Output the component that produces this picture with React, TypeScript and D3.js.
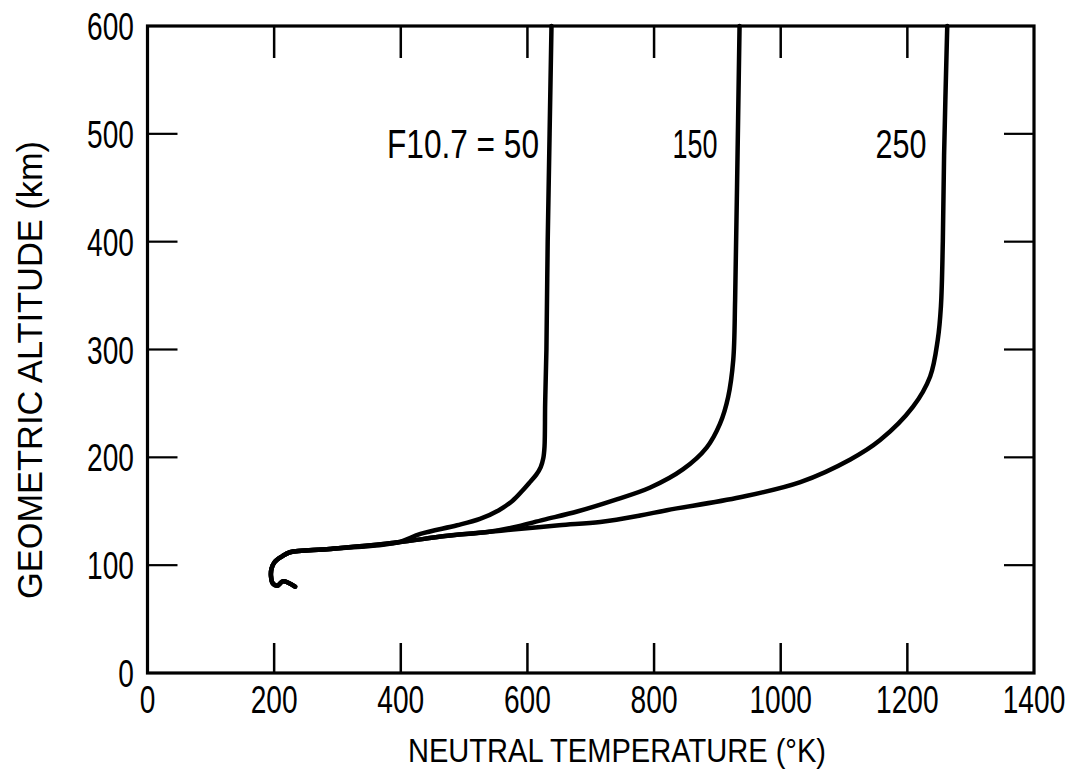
import React from "react";
import * as d3 from "d3";

// Temperature (K) and altitude (km) for each F10.7 curve
const temps50 = [233, 214, 205, 198, 195, 196, 201, 212, 225, 288, 394, 431, 489, 525, 555, 577, 592, 604, 614, 621, 625, 627, 628, 630, 632, 635, 638];
const alts50 = [80, 85, 81, 83, 90, 97, 103, 108, 112, 115, 121, 129, 137, 143, 151, 160, 169, 177, 184, 191, 199, 210, 250, 300, 400, 500, 600];

const temps150 = [233, 214, 205, 198, 195, 196, 201, 212, 225, 288, 394, 470, 540, 577, 625, 680, 741, 794, 846, 883, 904, 917, 925, 928, 931, 935];
const alts150 = [80, 85, 81, 83, 90, 97, 103, 108, 112, 115, 121, 127, 131, 135, 142, 150, 161, 172, 189, 209, 231, 256, 290, 346, 450, 600];

const temps250 = [233, 214, 205, 198, 195, 196, 201, 212, 225, 288, 394, 470, 540, 577, 650, 715, 778, 820, 936, 1031, 1110, 1157, 1209, 1236, 1248, 1253, 1256, 1258, 1263];
const alts250 = [80, 85, 81, 83, 90, 97, 103, 108, 112, 115, 121, 127, 131, 133, 137, 140, 146, 151, 163, 177, 198, 216, 247, 275, 309, 340, 400, 480, 600];

const xTicks = [0, 200, 400, 600, 800, 1000, 1200, 1400];
const yTicks = [0, 100, 200, 300, 400, 500, 600];

const curveLabels = ["F10.7 = 50", "150", "250"];
const xTitle = "NEUTRAL TEMPERATURE (°K)";
const yTitle = "GEOMETRIC ALTITUDE (km)";

const W = 1071;
const H = 776;
const FONT = "'Liberation Sans', Arial, sans-serif";

export default function App() {
  const x = d3.scaleLinear().domain([0, 1400]).range([147.5, 1034]);
  const y = d3.scaleLinear().domain([0, 600]).range([673, 26]);

  const line = d3
    .line<[number, number]>()
    .x((d) => x(d[0]))
    .y((d) => y(d[1]))
    .curve(d3.curveCatmullRom.alpha(0.5));

  const series = [
    { t: temps50, a: alts50 },
    { t: temps150, a: alts150 },
    { t: temps250, a: alts250 },
  ].map((s) => s.t.map((v, i) => [v, s.a[i]] as [number, number]));

  const innerX = xTicks.slice(1, -1);
  const innerY = yTicks.slice(1, -1);
  const tickLen = 30;

  const labelPos = [
    { x: 539, anchor: "end", len: 152 },
    { x: 695, anchor: "middle", len: 45 },
    { x: 901, anchor: "middle", len: 51 },
  ];

  return (
    <svg
      width={W}
      height={H}
      style={{ position: "absolute", left: 0, top: 0, background: "#fff" }}
    >
      <rect x={0} y={0} width={W} height={H} fill="#fff" />
      {/* frame */}
      <rect
        x={x(0)}
        y={y(600)}
        width={x(1400) - x(0)}
        height={y(0) - y(600)}
        fill="none"
        stroke="#000"
        strokeWidth={3.2}
      />
      {/* ticks */}
      {innerX.map((t) => (
        <g key={"xt" + t}>
          <line x1={x(t)} x2={x(t)} y1={y(0)} y2={y(0) - tickLen} stroke="#000" strokeWidth={2.5} />
          <line x1={x(t)} x2={x(t)} y1={y(600)} y2={y(600) + tickLen + 2} stroke="#000" strokeWidth={2.5} />
        </g>
      ))}
      {innerY.map((t) => (
        <g key={"yt" + t}>
          <line x1={x(0)} x2={x(0) + tickLen} y1={y(t)} y2={y(t)} stroke="#000" strokeWidth={2.2} />
          <line x1={x(1400)} x2={x(1400) - tickLen} y1={y(t)} y2={y(t)} stroke="#000" strokeWidth={2.2} />
        </g>
      ))}
      {/* tick labels */}
      {xTicks.map((t) => (
        <text
          key={"xl" + t}
          transform={`translate(${x(t)},713) scale(0.74,1)`}
          textAnchor="middle"
          fontFamily={FONT}
          fontSize={38}
          fill="#000"
        >
          {t}
        </text>
      ))}
      {yTicks.map((t) => (
        <text
          key={"yl" + t}
          transform={`translate(134,${y(t) + 14}) scale(0.74,1)`}
          textAnchor="end"
          fontFamily={FONT}
          fontSize={38}
          fill="#000"
        >
          {t}
        </text>
      ))}
      {/* curves */}
      {series.map((s, i) => (
        <path
          key={"c" + i}
          d={line(s) || ""}
          fill="none"
          stroke="#000"
          strokeWidth={4.5}
          strokeLinecap="round"
          strokeLinejoin="round"
        />
      ))}
      {/* curve labels */}
      {curveLabels.map((lab, i) => (
        <text
          key={"cl" + i}
          x={labelPos[i].x}
          y={158}
          textAnchor={labelPos[i].anchor as any}
          fontFamily={FONT}
          fontSize={40}
          textLength={labelPos[i].len}
          lengthAdjust="spacingAndGlyphs"
          fill="#000"
        >
          {lab}
        </text>
      ))}
      {/* axis titles */}
      <text
        x={617}
        y={762}
        textAnchor="middle"
        fontFamily={FONT}
        fontSize={34}
        textLength={418}
        lengthAdjust="spacingAndGlyphs"
        fill="#000"
      >
        {xTitle}
      </text>
      <text
        transform={`translate(42,370) rotate(-90)`}
        textAnchor="middle"
        fontFamily={FONT}
        fontSize={35}
        textLength={458}
        lengthAdjust="spacingAndGlyphs"
        fill="#000"
      >
        {yTitle}
      </text>
    </svg>
  );
}
